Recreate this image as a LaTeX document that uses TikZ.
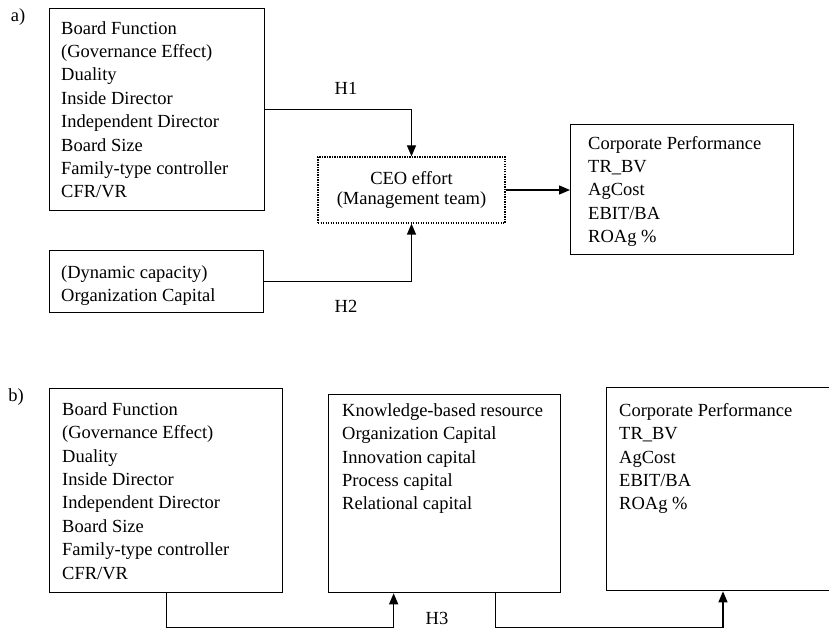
\documentclass[tikz,border=0pt]{standalone}
\usepackage{fontspec}
\setmainfont{Liberation Serif}
\usetikzlibrary{arrows.meta}
\begin{document}
\begin{tikzpicture}[x=1pt,y=-1pt,
  every node/.style={font=\fontsize{18.5}{23.4}\selectfont},
  box/.style={draw,line width=1.3pt,rectangle,anchor=north west,inner sep=0pt},
  txt/.style={anchor=north west,align=left,inner sep=0pt},
  conn/.style={line width=1.3pt},
  arr/.style={conn,-{Triangle[length=11pt,width=9pt]}},
  lbl/.style={inner sep=0pt}]
\useasboundingbox (0,0) rectangle (829,628);
\clip (0,0) rectangle (829,628);
% ---- a)
\node[lbl] (la) at (18,17) {a)};
\node[box,minimum width=215pt,minimum height=202pt] (a1) at (49,8) {};
\node[txt] (a1t) at (61,34-16.38) {\strut Board Function\\(Governance Effect)\\Duality\\Inside Director\\Independent Director\\Board Size\\Family-type controller\\CFR/VR};
\node[box,minimum width=214pt,minimum height=62pt] (a2) at (49,250) {};
\node[txt] (a2t) at (61,278-16.38) {\strut (Dynamic capacity)\\Organization Capital};
\node[draw,line width=1.3pt,dash pattern=on 1.2pt off 1.3pt,minimum width=187pt,minimum height=66pt,align=center,inner sep=0pt,
  font=\fontsize{18.5}{20}\selectfont] (ceo) at (411.5,190) {CEO effort\\(Management team)};
\node[box,minimum width=223pt,minimum height=130pt] (corp) at (570,124) {};
\node[txt] (corpt) at (588,149-16.38) {\strut Corporate Performance\\TR\_BV\\AgCost\\EBIT/BA\\ROAg \%};
\draw[arr] (a1.east) -| (ceo.north);
\draw[arr] (a2.east) -| (ceo.south);
\draw[arr] (ceo.east) -- (corp.west |- ceo.east);
\node[lbl] (h1) at (346,88) {H1};
\node[lbl] (h2) at (346,306) {H2};
% ---- b)
\node[lbl] (lb) at (16,397) {b)};
\node[box,minimum width=233pt,minimum height=204pt] (b1) at (49,388) {};
\node[txt] (b1t) at (62,415-16.38) {\strut Board Function\\(Governance Effect)\\Duality\\Inside Director\\Independent Director\\Board Size\\Family-type controller\\CFR/VR};
\node[box,minimum width=232pt,minimum height=198pt] (b2) at (328,394) {};
\node[txt] (b2t) at (342,416-16.38) {\strut Knowledge-based resource\\Organization Capital\\Innovation capital\\Process capital\\Relational capital};
\node[box,minimum width=260pt,minimum height=203pt] (b3) at (606,387) {};
\node[txt] (b3t) at (619,416-16.38) {\strut Corporate Performance\\TR\_BV\\AgCost\\EBIT/BA\\ROAg \%};
\coordinate (b2in) at ([xshift=-51pt]b2.south);
\coordinate (b2out) at ([xshift=51pt]b2.south);
\coordinate (b3in) at ([xshift=117pt]b3.south west);
\draw[arr] (b1.south) -- ++(0,34) -| (b2in);
\draw[arr] (b2out) -- ++(0,34) -| (b3in);
\node[lbl] (h3) at (437,618) {H3};
\end{tikzpicture}
\end{document}
